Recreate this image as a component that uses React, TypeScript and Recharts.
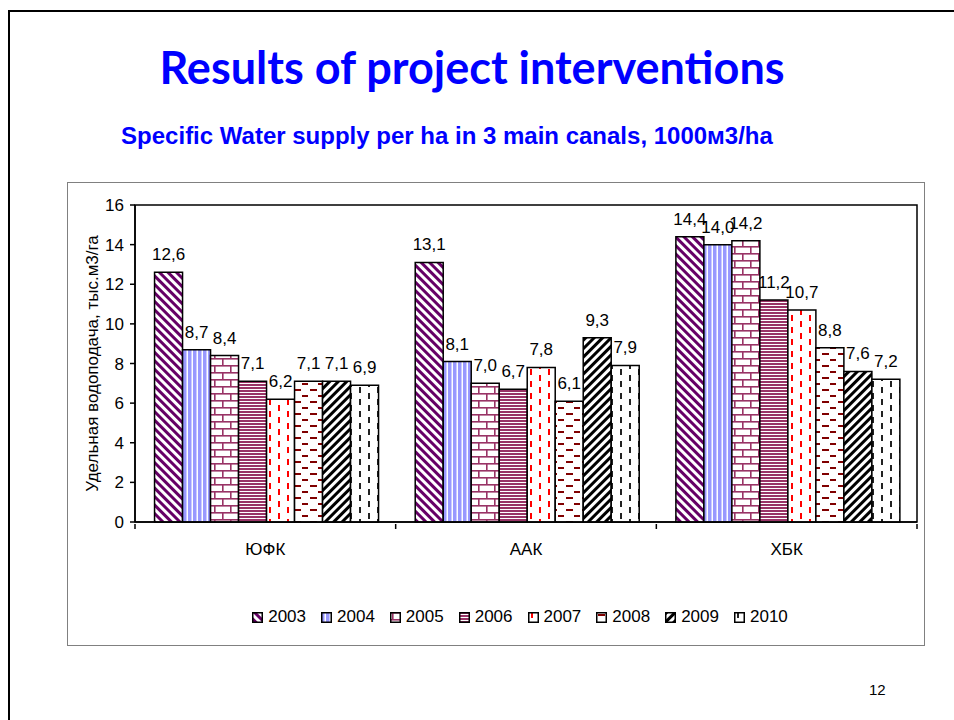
import React from "react";
import { BarChart, Bar, XAxis, YAxis, LabelList, ReferenceArea } from "recharts";

const categories = ["ЮФК", "ААК", "ХБК"];
const years = ["2003", "2004", "2005", "2006", "2007", "2008", "2009", "2010"];
const v2003 = [12.6, 13.1, 14.4];
const v2004 = [8.7, 8.1, 14.0];
const v2005 = [8.4, 7.0, 14.2];
const v2006 = [7.1, 6.7, 11.2];
const v2007 = [6.2, 7.8, 10.7];
const v2008 = [7.1, 6.1, 8.8];
const v2009 = [7.1, 9.3, 7.6];
const v2010 = [6.9, 7.9, 7.2];
const yTicks = [0, 2, 4, 6, 8, 10, 12, 14, 16];

const seriesValues = [v2003, v2004, v2005, v2006, v2007, v2008, v2009, v2010];

const data = categories.map((name, i) => {
  const row: Record<string, string | number> = { name };
  years.forEach((y, k) => {
    row["y" + y] = seriesValues[k][i];
  });
  return row;
});

const FONT = "'Liberation Sans', Arial, sans-serif";
const CHART_W = 856;
const CHART_H = 462;
const MARGIN = { top: 22, right: 7, left: 7, bottom: 93 };
const Y_W = 60;
const BAND = (CHART_W - MARGIN.left - MARGIN.right - Y_W) / categories.length;

const fmt = (v: any) => Number(v).toFixed(1).replace(".", ",");

function Patterns() {
  return (
    <svg width={0} height={0} style={{ position: "absolute" }}>
      <defs>
        {/* 2003: purple wide downward diagonal */}
        <pattern id="p2003" patternUnits="userSpaceOnUse" width={6} height={6} patternTransform="rotate(-45)">
          <rect width={6} height={6} fill="#fff" />
          <rect width={3} height={6} fill="#660066" />
        </pattern>
        {/* 2004: lavender vertical stripes */}
        <pattern id="p2004" patternUnits="userSpaceOnUse" width={5} height={5}>
          <rect width={5} height={5} fill="#fff" />
          <rect width={3.5} height={5} fill="#9999ff" />
        </pattern>
        {/* 2005: brick */}
        <pattern id="p2005" patternUnits="userSpaceOnUse" width={16} height={14}>
          <rect width={16} height={14} fill="#fff" />
          <rect y={0} width={16} height={1.6} fill="#993366" />
          <rect y={7} width={16} height={1.6} fill="#993366" />
          <rect x={2} y={0} width={1.6} height={7} fill="#993366" />
          <rect x={10} y={7} width={1.6} height={7} fill="#993366" />
        </pattern>
        {/* 2006: horizontal stripes */}
        <pattern id="p2006" patternUnits="userSpaceOnUse" width={3} height={3}>
          <rect width={3} height={3} fill="#fff" />
          <rect width={3} height={2} fill="#993366" />
        </pattern>
        {/* 2007: red dashed vertical */}
        <pattern id="p2007" patternUnits="userSpaceOnUse" width={18} height={12}>
          <rect width={18} height={12} fill="#fff" />
          <rect x={3} y={0} width={2} height={6} fill="#ff0000" />
          <rect x={12} y={6} width={2} height={6} fill="#ff0000" />
        </pattern>
        {/* 2008: dark red dashed horizontal */}
        <pattern id="p2008" patternUnits="userSpaceOnUse" width={16} height={12}>
          <rect width={16} height={12} fill="#fff" />
          <rect x={2} y={2} width={7} height={2} fill="#800000" />
          <rect x={10} y={8} width={7} height={2} fill="#800000" />
        </pattern>
        {/* 2009: black wide upward diagonal */}
        <pattern id="p2009" patternUnits="userSpaceOnUse" width={6} height={6} patternTransform="rotate(45)">
          <rect width={6} height={6} fill="#fff" />
          <rect width={3} height={6} fill="#000" />
        </pattern>
        {/* 2010: black dashed vertical */}
        <pattern id="p2010" patternUnits="userSpaceOnUse" width={18} height={12}>
          <rect width={18} height={12} fill="#fff" />
          <rect x={3} y={0} width={2} height={6} fill="#222" />
          <rect x={12} y={6} width={2} height={6} fill="#222" />
        </pattern>
      </defs>
    </svg>
  );
}

function CategoryTick(props: any) {
  const { x, y, payload, index } = props;
  return (
    <g>
      <line x1={x - BAND / 2} x2={x - BAND / 2} y1={y} y2={y + 5} stroke="#000" strokeWidth={1.5} />
      {index === categories.length - 1 && (
        <line x1={x + BAND / 2} x2={x + BAND / 2} y1={y} y2={y + 5} stroke="#000" strokeWidth={1.5} />
      )}
      <text x={x} y={y + 25} textAnchor="middle" dominantBaseline="central" fontSize={17} fontFamily={FONT} fill="#000">
        {payload.value}
      </text>
    </g>
  );
}

function LegendRow() {
  return (
    <div
      style={{
        position: "absolute",
        left: 24,
        width: CHART_W,
        top: 424,
        display: "flex",
        justifyContent: "center",
        alignItems: "center",
        fontFamily: FONT,
        fontSize: 17,
        color: "#000",
      }}
    >
      {years.map((y, i) => (
        <span key={y} style={{ display: "inline-flex", alignItems: "center", marginRight: i < years.length - 1 ? 15 : 0 }}>
          <svg width={11} height={11} style={{ marginRight: 5 }}>
            <rect x={0.75} y={0.75} width={9.5} height={9.5} fill={`url(#p${y})`} stroke="#000" strokeWidth={1.5} />
          </svg>
          {y}
        </span>
      ))}
    </div>
  );
}

export default function App() {
  return (
    <div style={{ position: "absolute", left: 0, top: 0, width: 954, height: 720, overflow: "hidden", background: "#fff" }}>
      <Patterns />
      <div
        style={{
          position: "absolute",
          left: 8,
          top: 10,
          width: 1000,
          height: 800,
          border: "2px solid #000",
        }}
      />
      <div
        style={{
          position: "absolute",
          left: 0,
          width: 944,
          top: 40,
          textAlign: "center",
          fontFamily: "Lato, 'Open Sans', sans-serif",
          fontWeight: 700,
          fontSize: 45,
          lineHeight: "54px",
          color: "#0000ff",
        }}
      >
        Results of project interventions
      </div>
      <div
        style={{
          position: "absolute",
          left: 0,
          width: 894,
          top: 121,
          textAlign: "center",
          fontFamily: FONT,
          fontWeight: 700,
          fontSize: 24,
          lineHeight: "30px",
          color: "#0000ff",
        }}
      >
        Specific Water supply per ha in 3 main canals, 1000м3/ha
      </div>
      <div
        style={{
          position: "absolute",
          left: 67,
          top: 182,
          width: 858,
          height: 464,
          boxSizing: "border-box",
          border: "1px solid #808080",
        }}
      >
        <BarChart width={CHART_W} height={CHART_H} data={data} margin={MARGIN} barCategoryGap="7.5%" barGap={0}>
          <ReferenceArea y1={0} y2={16} fill="none" stroke="#000" strokeWidth={1.5} ifOverflow="visible" />
          <XAxis
            dataKey="name"
            height={30}
            axisLine={{ stroke: "#000", strokeWidth: 1.5 }}
            tickLine={false}
            tickSize={0}
            tick={<CategoryTick />}
          />
          <YAxis
            width={Y_W}
            domain={[0, 16]}
            ticks={yTicks}
            interval={0}
            axisLine={{ stroke: "#000", strokeWidth: 1.5 }}
            tickLine={{ stroke: "#000", strokeWidth: 1.5 }}
            tickSize={5}
            tickMargin={6}
            tick={{ fill: "#000", fontSize: 17, fontFamily: FONT }}
            label={{
              value: "Удельная водоподача, тыс.м3/га",
              angle: -90,
              position: "insideLeft",
              offset: 17,
              style: { textAnchor: "middle", fontSize: 17, fontFamily: FONT, fill: "#000" },
            }}
          />
          {years.map((y) => (
            <Bar
              key={y}
              dataKey={"y" + y}
              name={y}
              fill={`url(#p${y})`}
              stroke="#000"
              strokeWidth={1.5}
              isAnimationActive={false}
            >
              <LabelList
                dataKey={"y" + y}
                position="top"
                offset={12}
                formatter={fmt}
                style={{ fontSize: 17, fontFamily: FONT, fill: "#000" }}
              />
            </Bar>
          ))}
        </BarChart>
        <LegendRow />
      </div>
      <div style={{ position: "absolute", left: 869, top: 681, fontFamily: FONT, fontSize: 15, color: "#000" }}>12</div>
    </div>
  );
}
